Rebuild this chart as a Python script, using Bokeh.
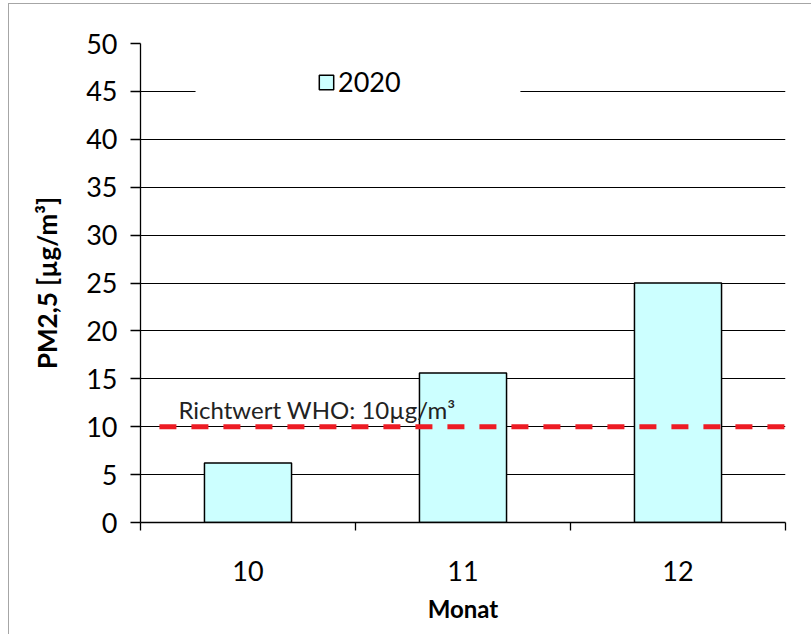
from bokeh.plotting import figure
from bokeh.models import (Range1d, FixedTicker, Legend, LegendItem, BoxAnnotation,
                          Label, ColumnDataSource)
from bokeh.embed import file_html
from bokeh.resources import INLINE

# ---- data ----
months = ["10", "11", "12"]
pm25 = [6.2, 15.6, 25.0]
series_name = "2020"
who_limit = 10
who_label = "Richtwert WHO: 10µg/m³"
y_ticks = [0, 5, 10, 15, 20, 25, 30, 35, 40, 45, 50]
x_title = "Monat"
y_title = "PM2,5 [µg/m³]"

FONT = "Lato"

x_pos = [i + 0.5 for i in range(len(months))]
src = ColumnDataSource(dict(x=x_pos, top=pm25, month=months))

W, H = 803, 631
p = figure(width=W, height=H, output_backend="svg", toolbar_location=None,
           x_range=Range1d(0, len(months)), y_range=Range1d(y_ticks[0], y_ticks[-1]),
           min_border_left=131, min_border_right=27, min_border_top=39,
           min_border_bottom=113)
p.styles = {"margin-left": "8px", "margin-top": "3px",
            "border-left": "1px solid #a6a6a6", "border-top": "1px solid #a6a6a6"}
p.outline_line_color = None
p.background_fill_color = "white"
p.border_fill_color = "white"

# grid
p.xgrid.visible = False
p.ygrid.ticker = FixedTicker(ticks=y_ticks)
p.ygrid.grid_line_color = "black"
p.ygrid.grid_line_width = 1.2

# bars
bars = p.vbar(x="x", top="top", width=0.405, source=src, fill_color="#ccffff",
              line_color="black", line_width=1.5)

# WHO line
who_start = 0.088
p.segment(x0=[who_start], y0=[who_limit], x1=[len(months)], y1=[who_limit],
          line_color="#ed1c24", line_width=5, line_dash="17 15")
p.add_layout(Label(x=who_start, y=who_limit, x_offset=19, y_offset=17,
                   text=who_label, text_font=FONT, text_font_size="24px",
                   text_color="#222222", text_baseline="alphabetic"))

# legend background box + legend
p.add_layout(BoxAnnotation(left=0.256, right=1.767, bottom=43.5, top=47.6,
                           fill_color="white", fill_alpha=1, line_alpha=0))
legend = Legend(items=[LegendItem(label=series_name, renderers=[bars])],
                location=(177, 424), padding=0, margin=0, spacing=0,
                border_line_alpha=0, background_fill_alpha=0,
                glyph_width=18, glyph_height=18, label_standoff=3,
                label_text_font=FONT, label_text_font_size="27px",
                label_text_color="black")
p.add_layout(legend)

# axes
xa = p.xaxis[0]
xa.ticker = FixedTicker(ticks=x_pos, minor_ticks=list(range(len(months) + 1)))
xa.major_label_overrides = {x: m for x, m in zip(x_pos, months)}
xa.major_tick_out = 0
xa.major_tick_in = 0
xa.minor_tick_out = 8
xa.minor_tick_in = 0
xa.minor_tick_line_color = "black"
xa.minor_tick_line_width = 1.3
xa.axis_line_color = "black"
xa.axis_line_width = 1.3
xa.major_label_standoff = 30
xa.axis_label = x_title
xa.axis_label_standoff = 10

ya = p.yaxis[0]
ya.ticker = FixedTicker(ticks=y_ticks)
ya.major_tick_out = 10
ya.major_tick_in = 0
ya.minor_tick_line_color = None
ya.major_tick_line_color = "black"
ya.major_tick_line_width = 1.3
ya.axis_line_color = "black"
ya.axis_line_width = 1.3
ya.major_label_standoff = 13
ya.axis_label = y_title
ya.axis_label_standoff = 20

for ax in (xa, ya):
    ax.major_label_text_font = FONT
    ax.major_label_text_font_size = "27px"
    ax.major_label_text_color = "black"
    ax.axis_label_text_font = FONT
    ax.axis_label_text_font_style = "bold"
    ax.axis_label_text_color = "black"
xa.axis_label_text_font_size = "24px"
ya.axis_label_text_font_size = "26px"

open("out.html", "w").write(file_html(p, INLINE))
